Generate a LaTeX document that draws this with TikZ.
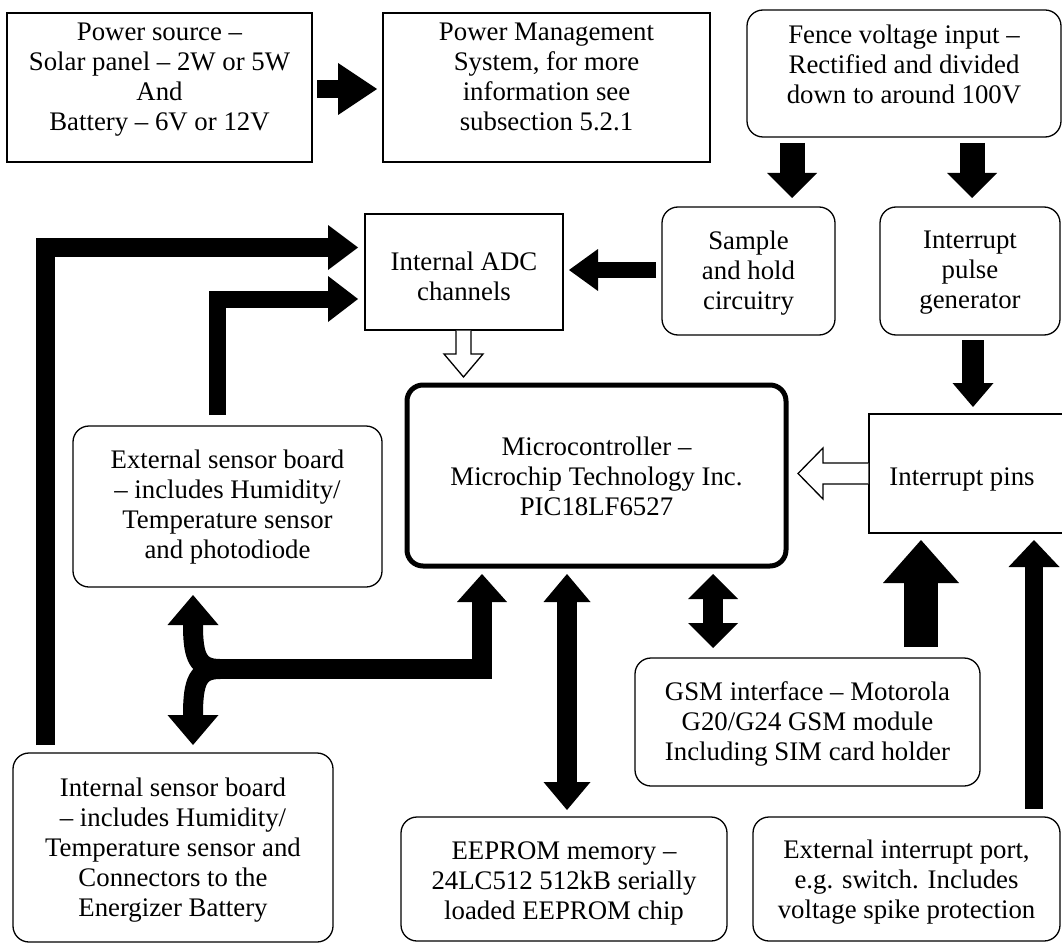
\documentclass[tikz,border=0pt]{standalone}
\usepackage{fontspec}
\setmainfont{Liberation Serif}
\usetikzlibrary{arrows.meta,calc,fit}
\begin{document}
\begin{tikzpicture}[x=1pt,y=-1pt,
  txt/.style={font=\fontsize{26.8}{30}\selectfont, align=center, inner sep=0pt, outer sep=0pt},
  sqbox/.style={draw, line width=1.3pt, inner sep=0pt, outer sep=0pt},
  rdbox/.style={sqbox, rounded corners=16pt},
  blk/.style n args={3}{line width=#1pt, line join=miter,
    -{Triangle[width=#2pt,length=#3pt,line width=0pt]}},
  dblk/.style n args={3}{line width=#1pt,
    {Triangle[width=#2pt,length=#3pt,line width=0pt]}-{Triangle[width=#2pt,length=#3pt,line width=0pt]}},
  hollow/.style={draw, fill=white, line width=1.3pt, line join=miter},
]
\useasboundingbox (0,0) rectangle (1062,944);

% block outlines
\node[sqbox, fit={(7,13) (312,162)}] (power) {};
\node[sqbox, fit={(383,13) (710,162)}] (pm) {};
\node[rdbox, fit={(747,10) (1061,137)}] (fence) {};
\node[rdbox, fit={(662,207) (835,335)}] (sample) {};
\node[rdbox, fit={(880,207) (1060,335)}] (pulse) {};
\node[sqbox, fit={(365,214) (563,330)}] (adc) {};
\node[rdbox, line width=5pt, fit={(407,385) (786,566)}] (micro) {};
\node[sqbox, fit={(869,414) (1075,533)}] (pins) {};
\node[rdbox, fit={(73,426) (382,587)}] (extsens) {};
\node[rdbox, fit={(13,753) (333,942)}] (intsens) {};
\node[rdbox, fit={(635,658) (980,786)}] (gsm) {};
\node[rdbox, fit={(401,817) (727,941)}] (eeprom) {};
\node[rdbox, fit={(753,817) (1060,941)}] (extint) {};

% block texts
\node[txt] (power-t) at ($(power)+(0,-8)$)
  {Power source –\\Solar panel – 2W or 5W\\And\\Battery – 6V or 12V};
\node[txt] (pm-t) at ($(pm)+(0,-11)$)
  {Power Management\\System, for more\\information see\\subsection 5.2.1};
\node[txt] (fence-t) at ($(fence)+(0,-9)$)
  {Fence voltage input –\\Rectified and divided\\down to around 100V};
\node[txt] (sample-t) at ($(sample)+(0,2)$)
  {Sample\\and hold\\circuitry};
\node[txt] (pulse-t) at ($(pulse)+(0,2)$)
  {Interrupt\\pulse\\generator};
\node[txt] (adc-t) at ($(adc)+(0,4)$)
  {Internal ADC\\channels};
\node[txt] (micro-t) at ($(micro)+(0,0.5)$)
  {Microcontroller –\\Microchip Technology Inc.\\PIC18LF6527};
\node[txt] (pins-t) at ($(pins)+(-10,6)$)
  {Interrupt pins};
\node[txt] (extsens-t) at ($(extsens)+(0,1)$)
  {External sensor board\\– includes Humidity/\\Temperature sensor\\and photodiode};
\node[txt] (intsens-t) at ($(intsens)+(0,3)$)
  {Internal sensor board\\– includes Humidity/\\Temperature sensor and\\Connectors to the\\Energizer Battery};
\node[txt] (gsm-t) at ($(gsm)+(0,2)$)
  {GSM interface – Motorola\\G20/G24 GSM module\\Including SIM card holder};
\node[txt] (eeprom-t) at ($(eeprom)+(0,4)$)
  {EEPROM memory –\\24LC512 512kB serially\\loaded EEPROM chip};
\node[txt] (extint-t) at ($(extint)+(0,3)$)
  {External interrupt port,\\e.g. switch. Includes\\voltage spike protection};

% solid block arrows
\draw[blk={18}{52}{39}] ($(power.east)+(5,1.5)$) -- ($(pm.west)+(-6,1.5)$);
\draw[blk={25}{50}{25}] ($(fence.south)+(-112,6)$) -- ($(sample.north)+(43.5,-9)$);
\draw[blk={25}{50}{25}] ($(fence.south)+(68,6)$) -- ($(pulse.north)+(2,-9)$);
\draw[blk={16}{42}{29}] ($(sample.west)+(-6,-1)$) -- ($(adc.east)+(6,-2)$);
\draw[blk={22}{41}{24}] ($(pulse.south)+(3,5)$) -- ($(pins.north)+(1,-7)$);
\draw[blk={34}{76}{43}] ($(gsm.north)+(113.5,-11)$) -- ($(pins.south)+(-51,7)$);
\draw[blk={18}{51}{27}] ($(extint.north)+(127.5,-8)$) -- ($(pins.south)+(62,7)$);
\draw[dblk={20}{50}{25}] ($(micro.south)+(116.5,8)$) -- ($(gsm.north)+(-94.5,-10)$);
\draw[dblk={20}{47}{28}] ($(micro.south)+(-29.5,8)$) -- ($(eeprom.north)+(3,-7)$);

% sensor boards to the ADC
\draw[blk={19}{45}{30}] ($(intsens.north)+(-128,-8)$) |- ($(adc.west)+(-7,-24.5)$);
\draw[blk={17}{46}{30}] ($(extsens.north)+(-10.5,-11)$) |- ($(adc.west)+(-7,27)$);

% forked bus between the sensor boards and the microcontroller
\coordinate (fj) at ($(intsens.north)+(42,-84)$);
\draw[blk={20}{50}{28}] (fj) -| ($(micro.south)+(-114.5,8)$);
\draw[blk={20}{51}{30}] ($(fj)+(5,0)$) .. controls ($(fj)+(-17,0)$) and ($(fj)+(-22,-12)$) .. ($(extsens.south)+(-34.5,8)$);
\draw[blk={20}{51}{30}] ($(fj)+(5,0)$) .. controls ($(fj)+(-17,0)$) and ($(fj)+(-22,12)$) .. ($(intsens.north)+(20,-8)$);

% hollow arrows into the microcontroller
\draw[hollow] ($(adc.south)+(-8,0.6)$) -- ++(0,23.4) -- ++(-12,0) -- ++(19.5,23) -- ++(19.5,-23) -- ++(-12,0) -- ++(0,-23.4);
\draw[hollow] ($(pins.west)+(-0.6,-10.5)$) -- ++(-45.4,0) -- ++(0,-15) -- ++(-25,25.5) -- ++(25,25.5) -- ++(0,-15) -- ++(45.4,0);
\end{tikzpicture}
\end{document}
